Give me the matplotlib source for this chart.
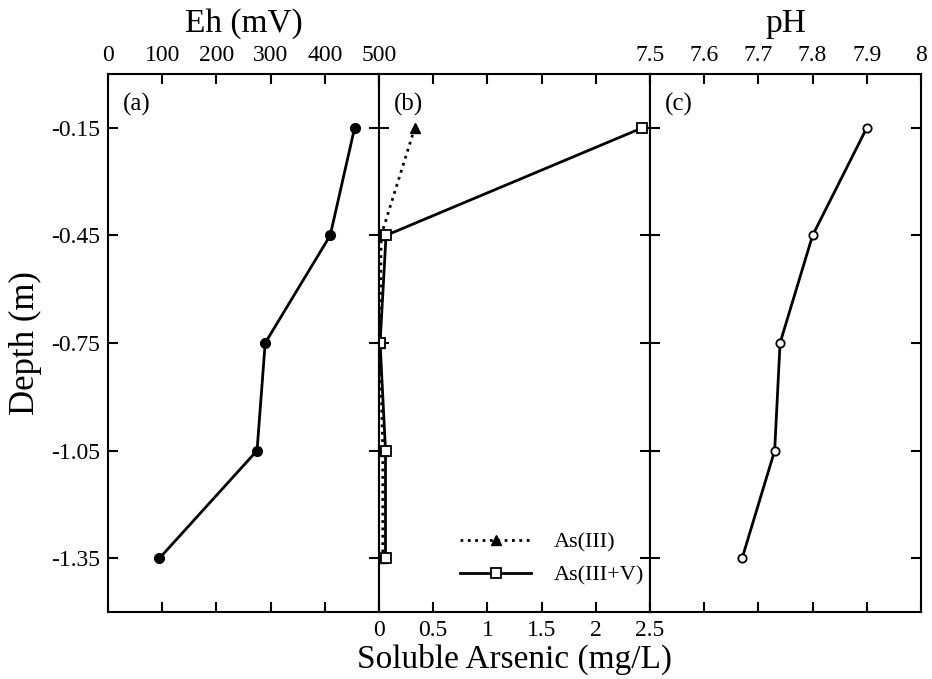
import matplotlib
matplotlib.use("Agg")
import matplotlib.pyplot as plt

plt.rcParams["font.family"] = ["Liberation Serif", "DejaVu Serif"]

# DATA
depth      = [-0.15, -0.45, -0.75, -1.05, -1.35]
eh_mv      = [455, 410, 290, 275, 95]
as_iii     = [0.33, 0.02, 0.01, 0.035, 0.035]
as_total   = [2.43, 0.065, 0.01, 0.06, 0.06]
ph         = [7.90, 7.80, 7.74, 7.73, 7.67]

depth_ticks = [-0.15, -0.45, -0.75, -1.05, -1.35]
depth_labels = ["-0.15", "-0.45", "-0.75", "-1.05", "-1.35"]
eh_ticks   = [0, 100, 200, 300, 400, 500]
as_ticks   = [0, 0.5, 1, 1.5, 2, 2.5]
as_labels  = ["0", "0.5", "1", "1.5", "2", "2.5"]
ph_ticks   = [7.5, 7.6, 7.7, 7.8, 7.9, 8.0]
ph_labels  = ["7.5", "7.6", "7.7", "7.8", "7.9", "8"]

fig = plt.figure(figsize=(9.32, 6.79), dpi=100)
L, B, W, H = 108/932, 1 - 612/679, 271/932, (612 - 74)/679
axa = fig.add_axes([L, B, W, H])
axb = fig.add_axes([L + W, B, W, H])
axc = fig.add_axes([L + 2*W, B, W, H])

TS = 17      # tick labels
LS = 24      # axis titles
PS = 18      # panel letters
for ax in (axa, axb, axc):
    ax.set_ylim(-1.5, 0)
    ax.set_yticks(depth_ticks)
    ax.tick_params(direction="in", length=7, width=1.5, top=True, bottom=True,
                   left=True, right=True, labelsize=TS, pad=6)
    ax.tick_params(axis="y", labelleft=False)
    for s in ax.spines.values():
        s.set_linewidth(1.5)

# (a) Eh
axa.plot(eh_mv, depth, "-o", color="black", lw=2, ms=7)
axa.set_xlim(0, 500)
axa.set_xticks(eh_ticks)
axa.tick_params(axis="x", labeltop=True, labelbottom=False)
axa.tick_params(axis="y", labelleft=True)
axa.set_yticklabels(depth_labels)
axa.xaxis.set_label_position("top")
axa.set_xlabel("Eh (mV)", fontsize=LS, labelpad=9)
axa.set_ylabel("Depth (m)", fontsize=25, labelpad=6)
axa.text(0.055, 0.965, "(a)", transform=axa.transAxes, fontsize=PS, va="top")

# (b) soluble arsenic
axb.plot(as_iii, depth, ":^", color="black", lw=2, ms=7, label="As(III)")
axb.plot(as_total, depth, "-s", color="black", lw=2, ms=7, mfc="white",
         mew=1.3, label="As(III+V)")
axb.set_xlim(0, 2.5)
axb.set_xticks(as_ticks)
axb.set_xticklabels(as_labels)
axb.tick_params(axis="x", labeltop=False, labelbottom=True)
axb.set_xlabel("Soluble Arsenic (mg/L)", fontsize=LS, labelpad=2)
axb.text(0.055, 0.965, "(b)", transform=axb.transAxes, fontsize=PS, va="top")
axb.legend(loc="lower right", bbox_to_anchor=(1.035, 0.02), frameon=False,
           fontsize=16, handlelength=3.2, handletextpad=1.0, labelspacing=0.55,
           borderaxespad=0.3)

# (c) pH
axc.plot(ph, depth, "-o", color="black", lw=2, ms=6, mfc="white", mew=1.3)
axc.set_xlim(7.5, 8.0)
axc.set_xticks(ph_ticks)
axc.set_xticklabels(ph_labels)
axc.tick_params(axis="x", labeltop=True, labelbottom=False)
axc.xaxis.set_label_position("top")
axc.set_xlabel("pH", fontsize=LS, labelpad=9)
axc.text(0.055, 0.965, "(c)", transform=axc.transAxes, fontsize=PS, va="top")

fig.savefig("out.png", dpi=100)
